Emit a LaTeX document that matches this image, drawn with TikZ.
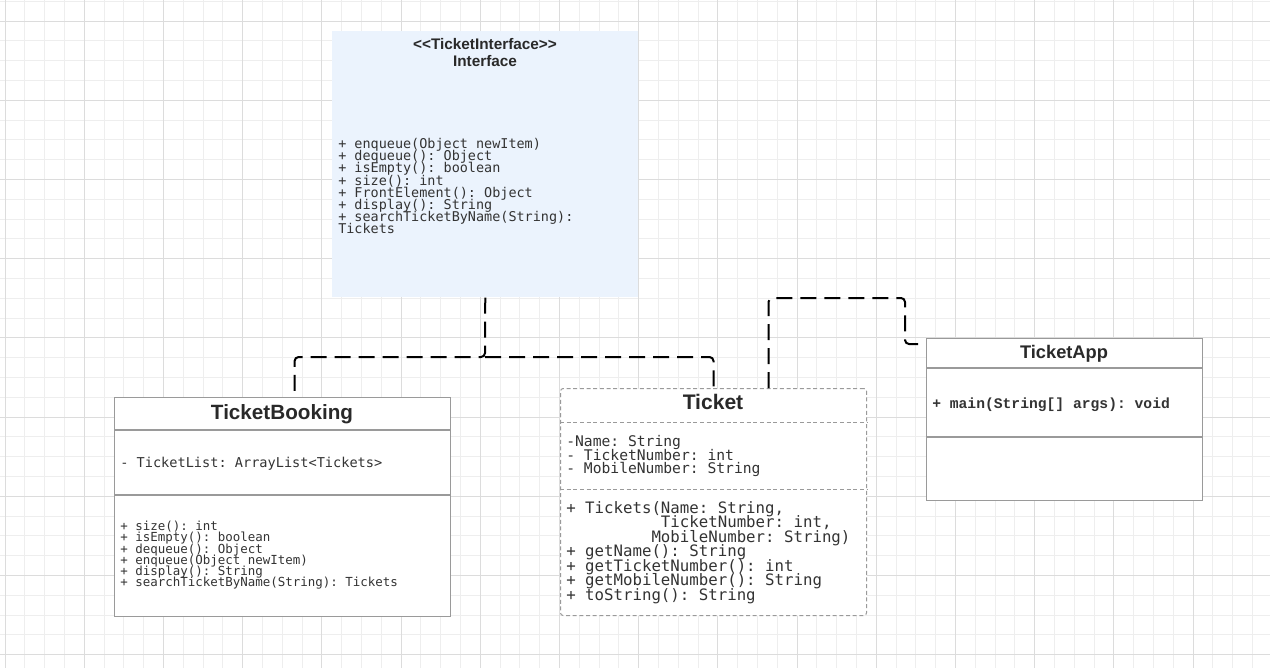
\documentclass[tikz,border=0pt]{standalone}
\usepackage{fontspec}
\setmainfont{Liberation Sans}
\newfontfamily\monof{DejaVu Sans Mono}
\newfontfamily\monob{Liberation Mono}
\definecolor{gridminor}{HTML}{EEEEEE}
\definecolor{gridmajor}{HTML}{DCDCDC}
\definecolor{ifill}{HTML}{EBF3FD}
\definecolor{boxline}{HTML}{9A9A9A}
\definecolor{txt}{HTML}{333333}
\frenchspacing
\begin{document}
\begin{tikzpicture}[x=0.75pt,y=-0.75pt,
  umlbox/.style={draw=boxline, line width=0.9pt, anchor=north west, inner sep=0pt},
  title/.style={font=\bfseries\fontsize{#1pt}{#1pt}\selectfont, text=txt!80!black, anchor=base, inner sep=0pt},
  mono/.style={font=\monof\frenchspacing\fontsize{#1pt}{#1pt}\selectfont, text=txt, anchor=base west, inner sep=0pt},
  divider/.style={draw=boxline, line width=0.9pt},
  dep/.style={draw=black, line width=1.5pt, dash pattern=on 12pt off 6pt, rounded corners=3pt}]
\useasboundingbox (0,0) rectangle (1270,668);
\fill[white] (0,0) rectangle (1270,668);
% grid
\begin{scope}
\clip (0,0) rectangle (1270,668);
\foreach \k in {0,...,64} {
  \pgfmathsetmacro\xx{5+19.8*\k}
  \draw[gridminor, line width=0.75pt] (\xx,0) -- (\xx,668);
}
\foreach \k in {0,...,34} {
  \pgfmathsetmacro\yy{1.2+19.8*\k}
  \draw[gridminor, line width=0.75pt] (0,\yy) -- (1270,\yy);
}
\foreach \k in {0,...,16} {
  \pgfmathsetmacro\xx{5+79.2*\k}
  \draw[gridmajor, line width=0.75pt] (\xx,0) -- (\xx,668);
}
\foreach \k in {0,...,8} {
  \pgfmathsetmacro\yy{21+79.2*\k}
  \draw[gridmajor, line width=0.75pt] (0,\yy) -- (1270,\yy);
}
\end{scope}

% Interface
\node[fill=ifill, draw=none, anchor=north west, inner sep=0pt, minimum width=306*0.75pt, minimum height=266*0.75pt] (if) at (332,31) {};
\node[title=11.5] (ift1) at (485,49) {<\kern0pt<TicketInterface>\kern0pt>};
\node[title=11.5] (ift2) at (485,66.7) {Interface};
\foreach \t [count=\i from 0] in {{+ enqueue(Object newItem)},{+ dequeue(): Object},{+ isEmpty(): boolean},{+ size(): int},{+ FrontElement(): Object},{+ display(): String},{+ searchTicketByName(String):},{Tickets}}
  \node[mono=10.1] (ifm\i) at (338,{148.3+12.24*\i}) {\t};

% TicketBooking
\node[umlbox, fill=white, minimum width=336*0.75pt, minimum height=219*0.75pt] (tb) at (114,397) {};
\node[title=15.5] (tbt) at (282,419.3) {TicketBooking};
\draw[divider] (tb.west |- 0,430) -- (tb.east |- 0,430);
\draw[divider] (tb.west |- 0,495) -- (tb.east |- 0,495);
\node[mono=10.2] (tba) at (120,467.3) {- TicketList: ArrayList<Tickets>};
\foreach \t [count=\i from 0] in {{+ size(): int},{+ isEmpty(): boolean},{+ dequeue(): Object},{+ enqueue(Object newItem)},{+ display(): String},{+ searchTicketByName(String): Tickets}}
  \node[mono=9.35] (tbm\i) at (120,{530.7+11.2*\i}) {\t};

% Ticket
\node[draw=boxline, line width=0.75pt, dash pattern=on 3pt off 2pt, rounded corners=2pt, fill=white, anchor=north west, inner sep=0pt, minimum width=306*0.75pt, minimum height=227*0.75pt] (tk) at (560,388) {};
\node[title=15.8] (tkt) at (713,409.3) {Ticket};
\draw[divider, line width=0.75pt, dash pattern=on 3pt off 2pt] (tk.west |- 0,422) -- (tk.east |- 0,422);
\draw[divider, line width=0.75pt, dash pattern=on 3pt off 2pt] (tk.west |- 0,489) -- (tk.east |- 0,489);
\foreach \t [count=\i from 0] in {{-Name: String},{- TicketNumber: int},{- MobileNumber: String}}
  \node[mono=11.0] (tka\i) at (566,{446.7+13.3*\i}) {\t};
\foreach \t [count=\i from 0] in {{+ Tickets(Name: String,},{\hphantom{xxxxxxxxxx}TicketNumber: int,},{\hphantom{xxxxxxxxx}MobileNumber: String)},{+ getName(): String},{+ getTicketNumber(): int},{+ getMobileNumber(): String},{+ toString(): String}}
  \node[mono=11.8] (tkm\i) at (566,{513.3+14.45*\i}) {\t};

% TicketApp
\node[umlbox, fill=white, minimum width=276*0.75pt, minimum height=162*0.75pt] (ta) at (926,338) {};
\node[title=13.7] (tat) at (1064,358.3) {TicketApp};
\draw[divider] (ta.west |- 0,368) -- (ta.east |- 0,368);
\draw[divider] (ta.west |- 0,437) -- (ta.east |- 0,437);
\node[font=\monob\bfseries\frenchspacing\fontsize{11pt}{11pt}\selectfont, text=txt, anchor=base west, inner sep=0pt] (tam) at (932,408.3) {+ main(String[] args): void};

% connectors
\coordinate (j) at (485,357);
\coordinate (k1) at (905,298);
\draw[dep] (if.south) -- (j) -| ([xshift=9pt]tb.north);
\draw[dep] (j) -| (tk.north);
\draw[dep] ([xshift=41.25pt]tk.north) |- (k1) |- ([yshift=-4.5pt]ta.north west);
\end{tikzpicture}
\end{document}
